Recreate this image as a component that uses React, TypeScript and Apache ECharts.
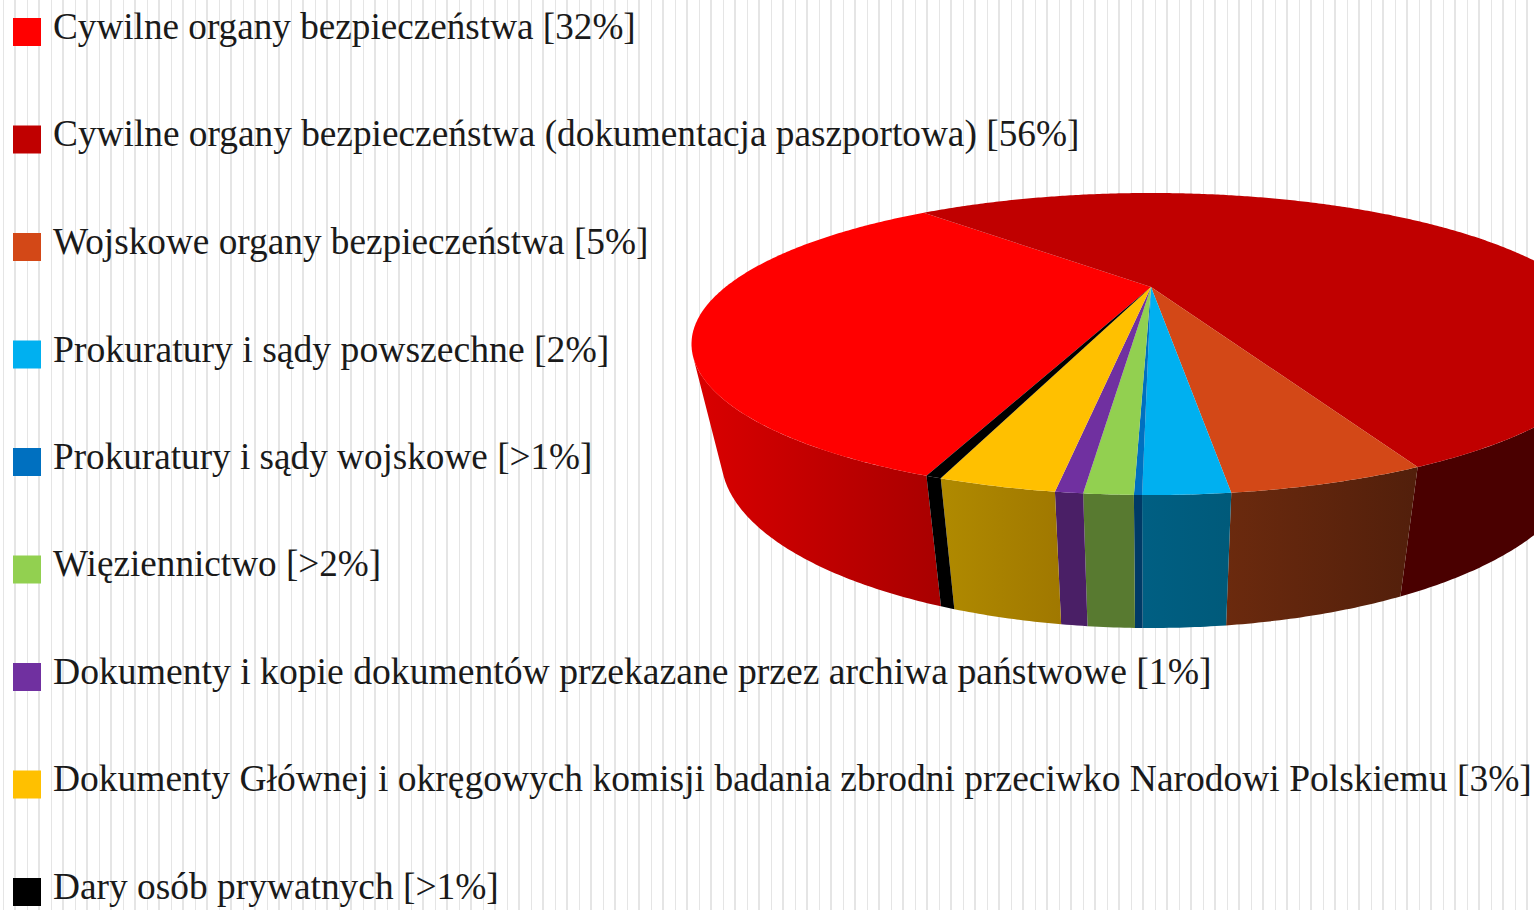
import React, { useEffect, useRef } from "react";
import * as echarts from "echarts";

const labels = [
  "Cywilne organy bezpieczeństwa [32%]",
  "Cywilne organy bezpieczeństwa (dokumentacja paszportowa) [56%]",
  "Wojskowe organy bezpieczeństwa [5%]",
  "Prokuratury i sądy powszechne [2%]",
  "Prokuratury i sądy wojskowe [>1%]",
  "Więziennictwo [>2%]",
  "Dokumenty i kopie dokumentów przekazane przez archiwa państwowe [1%]",
  "Dokumenty Głównej i okręgowych komisji badania zbrodni przeciwko Narodowi Polskiemu [3%]",
  "Dary osób prywatnych [>1%]",
];
const values = [32.54, 55.2, 4.86, 2.09, 0.19, 1.19, 0.67, 2.88, 0.39];
const colors = ["#ff0000", "#c00000", "#d34817", "#00b0f0", "#0070c0", "#92d050", "#7030a0", "#ffc000", "#000000"];
const wallLeft = ["#da0000", "#4a0000", "#6b2a0e", "#005f83", "#003a66", "#587a30", "#4a1f66", "#b08a00", "#000000"];
const wallRight = ["#a80000", "#4a0000", "#521f0b", "#005a7a", "#003a66", "#587a30", "#4a1f66", "#a07800", "#000000"];
const legendFontSizes = [37.2, 37.33, 37.27, 37.67, 37.2, 37.2, 37.66, 37.5, 37.4];
const startAngle = 199.9;

const TOP = { x: 1151, y: 287, a: 425.5, b: 129.5 };
const LOW = { x: 1151, y: 393.8, a: 398, b: 145.8 };
const K = -0.3775;
const WALL_FROM = 117, WALL_TO = 243;
// swatch 28x28 sitting below the text's centre line
const SWATCH = "path://M0 0L0 0Z M0 12H28V40H0Z";

function rim(p: typeof TOP, deg: number) {
  const t = (deg * Math.PI) / 180;
  const u = Math.sin(t), v = -Math.cos(t);
  const w = 1 + K * v;
  return [p.x + (p.a * u) / w, p.y + (p.b * v) / w];
}
function arc(p: typeof TOP, d0: number, d1: number) {
  const n = Math.max(2, Math.ceil((d1 - d0) * 2));
  const out: number[][] = [];
  for (let k = 0; k <= n; k++) out.push(rim(p, d0 + ((d1 - d0) * k) / n));
  return out;
}

const total = values.reduce((a, b) => a + b, 0);

function makeSeries(i: number) {
  const before = values.slice(0, i).reduce((a, b) => a + b, 0);
  const a0 = startAngle + (before / total) * 360;
  const a1 = a0 + (values[i] / total) * 360;
  return {
    type: "custom",
    name: labels[i],
    coordinateSystem: "none",
    silent: true,
    itemStyle: { color: colors[i] },
    data: [values[i]],
    renderItem: () => {
      const children: any[] = [];
      [0, 360].forEach((off) => {
        const d0 = Math.max(a0, WALL_FROM + off);
        const d1 = Math.min(a1, WALL_TO + off);
        if (d1 <= d0) return;
        const up = arc(TOP, d0, d1);
        const dn = arc(LOW, d0, d1).reverse();
        const xs = up.map((p) => p[0]).concat(dn.map((p) => p[0]));
        children.push({
          type: "polygon",
          z2: 1,
          shape: { points: [...up, ...dn] },
          style: {
            fill: new echarts.graphic.LinearGradient(Math.min(...xs), 0, Math.max(...xs), 0, [
              { offset: 0, color: wallLeft[i] },
              { offset: 1, color: wallRight[i] },
            ], true),
          },
        });
      });
      children.push({
        type: "polygon",
        z2: 2,
        shape: { points: [[TOP.x, TOP.y], ...arc(TOP, a0, a1)] },
        style: { fill: colors[i] },
      });
      return { type: "group", children };
    },
  };
}

function stripeAxis(gridIndex: number, width: number) {
  return {
    type: "value", gridIndex, min: 0, max: 1512, interval: 24,
    axisLine: { show: false }, axisTick: { show: false }, axisLabel: { show: false },
    splitLine: { show: true, lineStyle: { color: "#e5e5e5", width } },
  };
}
function hiddenY(gridIndex: number) {
  return {
    type: "value", gridIndex, min: 0, max: 1,
    axisLine: { show: false }, axisTick: { show: false }, axisLabel: { show: false }, splitLine: { show: false },
  };
}

export default function App() {
  const ref = useRef<HTMLDivElement>(null);
  useEffect(() => {
    document.body.style.margin = "0";
    document.body.style.overflow = "hidden";
    const chart = echarts.init(ref.current!, null, { renderer: "svg" });
    chart.setOption({
      animation: false,
      backgroundColor: "#ffffff",
      grid: [
        { left: 3, top: 0, width: 1512, height: 910 },
        { left: 15, top: 0, width: 1512, height: 910 },
      ],
      xAxis: [stripeAxis(0, 1), stripeAxis(1, 2)],
      yAxis: [hiddenY(0), hiddenY(1)],
      legend: {
        orient: "vertical", left: 13, top: 6,
        itemWidth: 28, itemHeight: 40, itemGap: 67.5,
        icon: SWATCH,
        selectedMode: false,
        padding: 0,
        data: labels.map((name, i) => ({ name, textStyle: { fontSize: legendFontSizes[i] } })),
        textStyle: {
          fontFamily: "Liberation Serif", fontSize: 37.4, color: "#1a1a1a",
          padding: [0, 0, 16, 7],
        },
      },
      series: values.map((_, i) => makeSeries(i)),
    });
    return () => chart.dispose();
  }, []);
  return <div ref={ref} style={{ width: 1534, height: 910 }} />;
}
